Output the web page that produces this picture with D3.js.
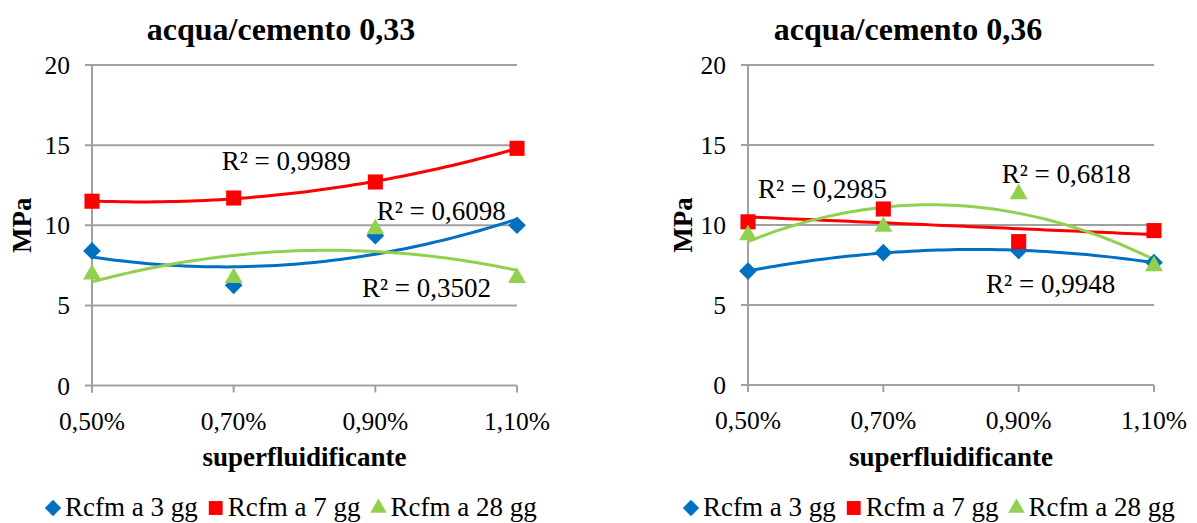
<!DOCTYPE html>
<html>
<head>
<meta charset="utf-8">
<script src="https://cdn.jsdelivr.net/npm/d3@7"></script>
<style>
  html, body { margin: 0; padding: 0; background: #fff; }
  svg { display: block; }
  text { font-family: "Liberation Serif", "Times New Roman", "DejaVu Serif", serif; fill: #000; }
</style>
</head>
<body>
<svg id="chart" width="1197" height="523"></svg>
<script>
// Categories: superplasticiser dosage
const categories = ["0,50%", "0,70%", "0,90%", "1,10%"];
const yTicks = [0, 5, 10, 15, 20];
const seriesNames = ["Rcfm a 3 gg", "Rcfm a 7 gg", "Rcfm a 28 gg"];

// Compressive strength (MPa), water/cement 0,33
const wc033_3gg = [8.4, 6.25, 9.35, 10.0];
const wc033_7gg = [11.5, 11.7, 12.7, 14.8];
const wc033_28gg = [6.93, 6.72, 9.76, 6.72];

// Compressive strength (MPa), water/cement 0,36
const wc036_3gg = [7.12, 8.27, 8.4, 7.65];
const wc036_7gg = [10.2, 11.0, 8.96, 9.65];
const wc036_28gg = [9.37, 9.9, 11.94, 7.44];

// Trendline order per series and R² labels
const wc033_trendOrder = [2, 2, 2];
const wc036_trendOrder = [2, 1, 2];
const wc033_r2 = ["R² = 0,6098", "R² = 0,9989", "R² = 0,3502"];
const wc036_r2 = ["R² = 0,9948", "R² = 0,2985", "R² = 0,6818"];
// label anchors in (category index, MPa)
const wc033_r2Pos = [[2.01, 10.34], [0.915, 13.46], [1.905, 5.53]];
const wc036_r2Pos = [[1.759, 5.77], [0.074, 11.67], [1.875, 12.64]];

const colors = ["#0070C0", "#FF0000", "#92D050"];
const symbols = [d3.symbolDiamond2, d3.symbolSquare2, d3.symbolTriangle2];
const sizes = [200, 290, 230];
const FONT = "27px";
const TICK_FONT = "25.5px";

// least squares polynomial fit y = c0 + c1 x + c2 x^2
function polyFit(xs, ys, order) {
  const n = order + 1;
  const A = Array.from({length: n}, () => new Array(n + 1).fill(0));
  xs.forEach((x, i) => {
    for (let r = 0; r < n; r++) {
      for (let c = 0; c < n; c++) A[r][c] += Math.pow(x, r + c);
      A[r][n] += ys[i] * Math.pow(x, r);
    }
  });
  for (let i = 0; i < n; i++) {
    let p = i;
    for (let k = i + 1; k < n; k++) if (Math.abs(A[k][i]) > Math.abs(A[p][i])) p = k;
    [A[i], A[p]] = [A[p], A[i]];
    for (let k = i + 1; k < n; k++) {
      const f = A[k][i] / A[i][i];
      for (let c = i; c <= n; c++) A[k][c] -= f * A[i][c];
    }
  }
  const coef = new Array(n).fill(0);
  for (let i = n - 1; i >= 0; i--) {
    let s = A[i][n];
    for (let c = i + 1; c < n; c++) s -= A[i][c] * coef[c];
    coef[i] = s / A[i][i];
  }
  return x => coef.reduce((acc, c, k) => acc + c * Math.pow(x, k), 0);
}

const svg = d3.select("#chart");

function drawPanel(cfg) {
  const g = svg.append("g");
  const x = d3.scalePoint().domain(categories).range([cfg.x0, cfg.x1]).padding(0);
  const xi = d3.scaleLinear().domain([0, categories.length - 1]).range([cfg.x0, cfg.x1]);
  const y = d3.scaleLinear().domain([0, 20]).range([cfg.yBottom, cfg.yTop]);
  const grid = "#A0A0A0";

  // horizontal gridlines with left tick stubs
  g.append("g").selectAll("line").data(yTicks).join("line")
    .attr("x1", cfg.x0 - 7).attr("x2", cfg.x1)
    .attr("y1", d => y(d)).attr("y2", d => y(d))
    .attr("stroke", grid).attr("stroke-width", 2);

  // y axis line
  g.append("line").attr("x1", cfg.x0).attr("x2", cfg.x0)
    .attr("y1", y(20)).attr("y2", y(0) + 7)
    .attr("stroke", grid).attr("stroke-width", 2);

  // x tick marks
  g.append("g").selectAll("line").data(categories).join("line")
    .attr("x1", d => x(d)).attr("x2", d => x(d))
    .attr("y1", y(0)).attr("y2", y(0) + 7)
    .attr("stroke", grid).attr("stroke-width", 2);

  // y tick labels
  g.append("g").selectAll("text").data(yTicks).join("text")
    .attr("x", cfg.x0 - 22).attr("y", d => y(d) + 9)
    .attr("text-anchor", "end").style("font-size", TICK_FONT)
    .text(d => d);

  // x tick labels
  g.append("g").selectAll("text").data(categories).join("text")
    .attr("x", d => x(d)).attr("y", y(0) + 44)
    .attr("text-anchor", "middle").style("font-size", TICK_FONT)
    .text(d => d);

  // titles
  g.append("text").attr("x", cfg.titleX).attr("y", 40)
    .attr("text-anchor", "middle").style("font-size", "32px").style("font-weight", "bold")
    .text(cfg.title);
  g.append("text").attr("x", (cfg.x0 + cfg.x1) / 2).attr("y", 466)
    .attr("text-anchor", "middle").style("font-size", FONT).style("font-weight", "bold")
    .text("superfluidificante");
  g.append("text").attr("transform", `translate(${cfg.yLabelX},${y(10)}) rotate(-90)`)
    .attr("text-anchor", "middle").style("font-size", FONT).style("font-weight", "bold")
    .text("MPa");

  const idx = categories.map((_, i) => i);

  // trendlines
  cfg.series.forEach((vals, s) => {
    const f = polyFit(idx, vals, cfg.orders[s]);
    const pts = d3.range(0, 3.0001, 0.05).map(t => [t, f(t)]);
    g.append("path")
      .attr("d", d3.line().x(d => xi(d[0])).y(d => y(d[1])).curve(d3.curveLinear)(pts))
      .attr("fill", "none").attr("stroke", colors[s]).attr("stroke-width", 3);
  });

  // markers
  cfg.series.forEach((vals, s) => {
    g.append("g").selectAll("path").data(vals).join("path")
      .attr("transform", (d, i) => `translate(${x(categories[i])},${y(d)})`)
      .attr("d", d3.symbol().type(symbols[s]).size(sizes[s]))
      .attr("fill", colors[s]);
  });

  // R² labels
  cfg.r2.forEach((label, s) => {
    g.append("text")
      .attr("x", xi(cfg.r2Pos[s][0])).attr("y", y(cfg.r2Pos[s][1]))
      .style("font-size", FONT).text(label);
  });

  // legend
  const lg = g.append("g");
  let cx = cfg.legendX;
  seriesNames.forEach((name, s) => {
    lg.append("path")
      .attr("transform", `translate(${cx + 8},508)`)
      .attr("d", d3.symbol().type(symbols[s]).size(sizes[s] * 0.85))
      .attr("fill", colors[s]);
    const t = lg.append("text").attr("x", cx + 20).attr("y", 516)
      .style("font-size", FONT).text(name);
    cx += 20 + t.node().getComputedTextLength() + 10;
  });
}

drawPanel({
  title: "acqua/cemento 0,33", titleX: 281,
  x0: 92, x1: 517, yTop: 65, yBottom: 385.5, yLabelX: 31,
  series: [wc033_3gg, wc033_7gg, wc033_28gg], orders: wc033_trendOrder,
  r2: wc033_r2, r2Pos: wc033_r2Pos, legendX: 45
});
drawPanel({
  title: "acqua/cemento 0,36", titleX: 908,
  x0: 748, x1: 1154, yTop: 65, yBottom: 385, yLabelX: 692,
  series: [wc036_3gg, wc036_7gg, wc036_28gg], orders: wc036_trendOrder,
  r2: wc036_r2, r2Pos: wc036_r2Pos, legendX: 683
});
</script>
</body>
</html>
